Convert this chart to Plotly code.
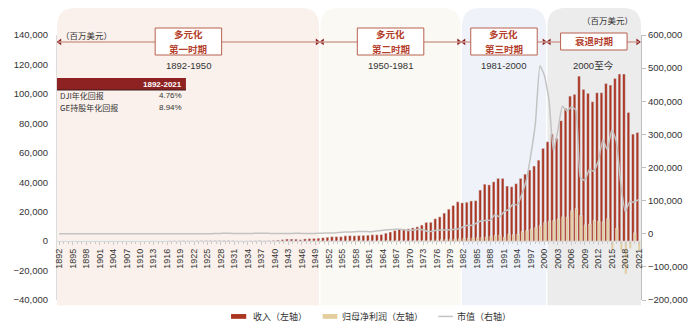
import plotly.graph_objects as go

# ---- data (millions USD) ----
years = list(range(1892, 2022))

revenue = [
    12, 20, 15, 13, 13, 15, 12, 15,
    28, 29, 32, 37, 40, 39, 44, 60, 44, 51,
    71, 71, 89, 107, 106, 85, 87, 147, 197, 230,
    275, 221, 200, 271, 300, 327, 327, 312, 337, 415,
    376, 263, 147, 137, 165, 208, 269, 350, 260, 304,
    500, 700, 1000, 1400, 1400, 1300, 900, 1500, 1700, 1800,
    2000, 2300, 2600, 3000, 3000, 3000, 3600, 3700, 3600, 3800,
    3900, 4000, 4300, 4300, 4500, 5400, 6200, 7200, 8000, 8200,
    8300, 9000, 9700, 10900, 12700, 12800, 15200, 16500, 19000, 21700,
    24200, 26700, 26000, 26400, 27300, 27500, 34700, 38700, 38200, 40300,
    42600, 42600, 37400, 36900, 39000, 42600, 45500, 48300, 51000, 55000,
    63000, 67500, 72700, 69800, 81800, 90200, 98500, 99700, 112100, 103100,
    100400, 94700, 100800, 100800, 107100, 106000, 110500, 113500, 113500, 87400,
    72700, 73800,
]

net_income = [
    1, 2, 3, 2, 2, 2, 2, 3,
    5, 6, 7, 8, 9, 10, 11, 12, 5, 7,
    11, 11, 12, 12, 13, 11, 17, 25, 28, 27,
    27, 19, 21, 29, 35, 39, 45, 49, 54, 67,
    57, 41, 14, 11, 21, 33, 45, 63, 28, 41,
    57, 57, 45, 44, 57, 58, 43, 95, 124, 126,
    180, 138, 151, 166, 205, 201, 214, 248, 243, 280,
    200, 242, 265, 271, 237, 355, 339, 361, 357, 278,
    328, 472, 530, 585, 608, 581, 931, 1088, 1230, 1409,
    1514, 1652, 1817, 2024, 2280, 2336, 2492, 2915, 3386, 3939,
    4303, 2636, 4725, 4315, 4726, 6573, 7280, 8203, 9296, 10717,
    12735, 13684, 14118, 15002, 16593, 16353, 20666, 22208, 17410, 11025,
    11644, 14151, 13641, 13057, 15233, -6126, 8831, -6222, -22355, -4979,
    5704, -6520,
]

market_cap = [
    30, 25, 25, 20, 20, 22, 25, 30,
    35, 40, 45, 40, 45, 55, 60, 50, 50, 60,
    65, 70, 80, 75, 70, 80, 90, 85, 80, 100,
    110, 90, 150, 180, 220, 300, 350, 600, 1000, 1800,
    1200, 1000, 500, 600, 600, 1000, 1300, 1200, 1200, 1100,
    1000, 800, 800, 1000, 1100, 1300, 1100, 1000, 1000, 1100,
    1400, 1900, 2000, 2300, 3800, 4800, 5400, 5600, 6400, 7100,
    6800, 6400, 6500, 9000, 10500, 12000, 12500, 13500, 13500, 11500,
    10000, 11300, 13400, 11500, 7000, 7500, 11000, 11500, 11000, 12000,
    13300, 15000, 21500, 25900, 25200, 33400, 39500, 40200, 40900, 58400,
    50700, 66300, 73100, 89300, 86600, 120300, 163000, 240100, 334200, 507200,
    478000, 405000, 250000, 312000, 386000, 370000, 383000, 374000, 170000, 161000,
    194000, 189000, 220000, 284000, 254000, 314000, 279000, 151000, 66000, 97000,
    95000, 104000,
]

# ---- periods ----
period_names = [["多元化", "第一时期"], ["多元化", "第二时期"], ["多元化", "第三时期"], ["衰退时期"]]
period_spans = ["1892-1950", "1950-1981", "1981-2000", "2000至今"]
period_bounds = [1891.5, 1950.0, 1981.5, 2000.5, 2021.5]
period_fills = ["#fbf1ec", "#fbf9f3", "#eff3f9", "#ececec"]

table_header = "1892-2021"
table_rows = [("DJI年化回报", "4.76%"), ("GE持股年化回报", "8.94%")]

unit_label = "（百万美元）"
legend_labels = ["收入（左轴）", "归母净利润（左轴）", "市值（右轴）"]

RED = "#aa3520"
TAN = "#e4cd9c"
GREY_LINE = "#c3c3c3"
DARK_RED = "#8c1f1f"
BOX_RED = "#b4402c"
FONT = "Liberation Sans, Noto Sans CJK SC, sans-serif"
CJK = "Noto Sans CJK SC, Liberation Sans, sans-serif"

y_range = [-40000, 140000]
y2_range = [-200000, 600000]
zero_pos = -y_range[0] / (y_range[1] - y_range[0])

fig = go.Figure()

fig.add_trace(go.Bar(
    x=years, y=revenue, name=legend_labels[0], marker_color=RED,
    width=0.6, offset=-0.6, yaxis="y", showlegend=False,
))
fig.add_trace(go.Bar(
    x=years, y=net_income, name=legend_labels[1], marker_color=TAN,
    width=0.55, offset=-0.15, yaxis="y", showlegend=False,
))
fig.add_trace(go.Scatter(
    x=years, y=market_cap, name=legend_labels[2], mode="lines",
    line=dict(color=GREY_LINE, width=1.5, shape="spline", smoothing=0.4),
    yaxis="y2", showlegend=False,
))

shapes = []
annotations = []

# rounded background panels for each period
y_bot, y_top = -0.02, 1.102
rx, ry = 4.0, 0.07
for i in range(4):
    xa = period_bounds[i] + (0.0 if i == 0 else 0.15)
    xb = period_bounds[i + 1] - (0.0 if i == 3 else 0.15)
    path = (f"M {xa},{y_bot} L {xa},{y_top - ry} Q {xa},{y_top} {xa + rx},{y_top} "
            f"L {xb - rx},{y_top} Q {xb},{y_top} {xb},{y_top - ry} L {xb},{y_bot} Z")
    shapes.append(dict(type="path", xref="x", yref="paper", path=path,
                       fillcolor=period_fills[i], line=dict(width=0), layer="below"))

# timeline line through the period boxes
arrow_y = 0.974
shapes.append(dict(type="line", xref="x", yref="paper", x0=period_bounds[0] + 0.3, x1=period_bounds[-1] - 0.5,
                   y0=arrow_y, y1=arrow_y, line=dict(color="#d0a097", width=1.5), layer="above"))

# arrow heads at the ends and at each period boundary
right_x, left_x = [], []
left_x.append(period_bounds[0] + 0.6)
for b in period_bounds[1:-1]:
    right_x.append(b - 0.55)
    left_x.append(b + 0.55)
right_x.append(period_bounds[-1] - 0.7)
arrow_val = y_range[0] + arrow_y * (y_range[1] - y_range[0])
fig.add_trace(go.Scatter(x=right_x, y=[arrow_val] * len(right_x), mode="markers",
                         marker=dict(symbol="triangle-right", size=6, color=DARK_RED),
                         yaxis="y", showlegend=False, cliponaxis=False, hoverinfo="skip"))
fig.add_trace(go.Scatter(x=left_x, y=[arrow_val] * len(left_x), mode="markers",
                         marker=dict(symbol="triangle-left", size=6, color=DARK_RED),
                         yaxis="y", showlegend=False, cliponaxis=False, hoverinfo="skip"))

# period title boxes
box_half = 7.4
for i in range(4):
    cx = (period_bounds[i] + period_bounds[i + 1]) / 2
    lines = period_names[i]
    if len(lines) == 2:
        b0, b1 = 0.9245, 1.0264
        line_y = [1.0019, 0.9453]
    else:
        b0, b1 = 0.9434, 1.0075
        line_y = [0.9755]
    shapes.append(dict(type="rect", xref="x", yref="paper", x0=cx - box_half, x1=cx + box_half,
                       y0=b0, y1=b1, fillcolor="white", line=dict(color="#b8604f", width=1),
                       layer="above"))
    for txt, ly in zip(lines, line_y):
        annotations.append(dict(
            x=cx, y=ly, xref="x", yref="paper", yanchor="middle", text=f"<b>{txt}</b>",
            showarrow=False, borderpad=0, font=dict(family=CJK, size=9.5, color=BOX_RED),
        ))
    annotations.append(dict(
        x=cx, y=0.886, xref="x", yref="paper", yanchor="middle", text=period_spans[i], showarrow=False,
        font=dict(family=FONT, size=9.5, color="#333333"),
    ))

# summary table
tbl_x1 = 1920.2
shapes.append(dict(type="rect", xref="x", yref="paper", x0=period_bounds[0], x1=tbl_x1,
                   y0=0.7925, y1=0.8377, fillcolor="#8e2121", line=dict(width=0)))
shapes.append(dict(type="line", xref="x", yref="paper", x0=period_bounds[0], x1=tbl_x1,
                   y0=0.7925, y1=0.7925, line=dict(color="#3a1a1a", width=1)))
annotations.append(dict(x=tbl_x1 - 0.4, y=0.815, xref="x", yref="paper", xanchor="right", yanchor="middle",
                        text=f"<b>{table_header}</b>", showarrow=False,
                        font=dict(family=FONT, size=8, color="white")))
for k, (lab, val) in enumerate(table_rows):
    yy = 0.770 - k * 0.045
    annotations.append(dict(x=period_bounds[0] + 0.2, y=yy, xref="x", yref="paper", xanchor="left",
                            yanchor="middle", text=lab, showarrow=False,
                            font=dict(family=CJK, size=8, color="#333333")))
    annotations.append(dict(x=tbl_x1 - 0.4, y=yy, xref="x", yref="paper", xanchor="right",
                            yanchor="middle", text=val, showarrow=False,
                            font=dict(family=FONT, size=8, color="#333333")))

# unit labels
annotations.append(dict(x=0.003, y=1.0, xref="paper", yref="paper", xanchor="left", yanchor="middle",
                        text=unit_label, showarrow=False, font=dict(family=CJK, size=8.5, color="#333333")))
annotations.append(dict(x=0.99, y=1.058, xref="paper", yref="paper", xanchor="right", yanchor="middle",
                        text=unit_label, showarrow=False, font=dict(family=CJK, size=8.5, color="#333333")))

# legend
leg_y = -0.062
shapes.append(dict(type="rect", xref="paper", yref="paper", x0=0.298, x1=0.324,
                   y0=leg_y - 0.009, y1=leg_y + 0.009, fillcolor=RED, line=dict(width=0)))
shapes.append(dict(type="rect", xref="paper", yref="paper", x0=0.455, x1=0.480,
                   y0=leg_y - 0.009, y1=leg_y + 0.009, fillcolor=TAN, line=dict(width=0)))
shapes.append(dict(type="line", xref="paper", yref="paper", x0=0.653, x1=0.678,
                   y0=leg_y, y1=leg_y, line=dict(color=GREY_LINE, width=1.5)))
for xp, lab in zip([0.332, 0.485, 0.682], legend_labels):
    annotations.append(dict(x=xp, y=leg_y, xref="paper", yref="paper", xanchor="left", yanchor="middle",
                            text=lab, showarrow=False, font=dict(family=CJK, size=9, color="#333333")))

fig.update_layout(
    width=700, height=329,
    margin=dict(l=57, r=57, t=35, b=29),
    paper_bgcolor="white", plot_bgcolor="rgba(0,0,0,0)",
    barmode="overlay",
    shapes=shapes, annotations=annotations,
    font=dict(family=FONT, size=9.5, color="#333333"),
    xaxis=dict(
        range=[1891.5, 2021.5], anchor="free", position=zero_pos,
        tickmode="linear", tick0=1892, dtick=3, tickangle=-90,
        ticks="outside", ticklen=3, tickcolor="#c8c8c8",
        minor=dict(dtick=1, tick0=1892, ticks="outside", ticklen=2, tickcolor="#c8c8c8"),
        showline=True, linecolor="#d8d8d8", linewidth=1,
        showgrid=False, zeroline=False,
        tickfont=dict(family=FONT, size=9, color="#333333"),
    ),
    yaxis=dict(
        range=y_range, tickvals=list(range(-40000, 140001, 20000)), tickformat=",",
        showgrid=False, zeroline=False, showline=True, linecolor="#dcdcdc",
        ticks="", ticklabelstandoff=6,
        tickfont=dict(family=FONT, size=9.5, color="#333333"),
    ),
    yaxis2=dict(
        range=y2_range, tickvals=list(range(-200000, 600001, 100000)), tickformat=",",
        overlaying="y", side="right", showgrid=False, zeroline=False,
        showline=True, linecolor="#bfbfbf", ticks="outside", ticklen=4, tickcolor="#bfbfbf",
        tickfont=dict(family=FONT, size=9.5, color="#333333"),
    ),
)

fig.write_html("out.html")
